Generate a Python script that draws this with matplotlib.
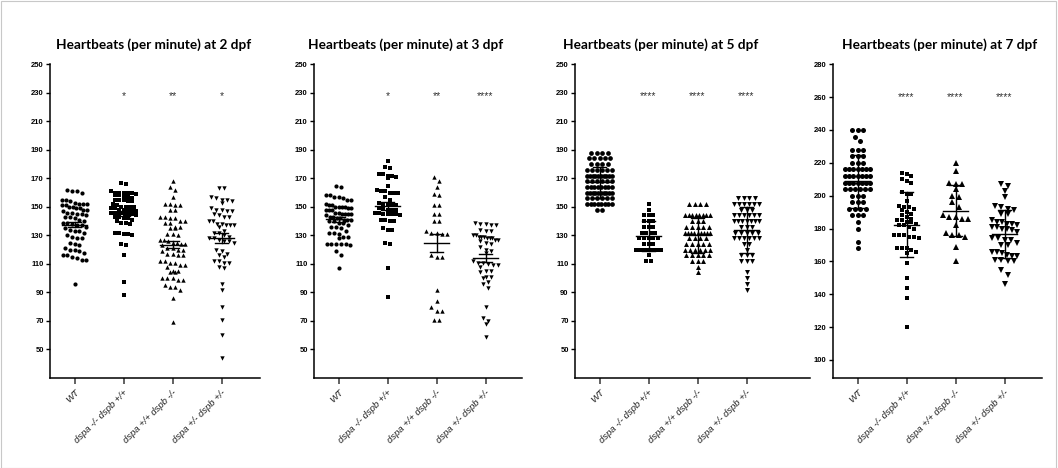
import matplotlib
matplotlib.use("Agg")
import matplotlib.pyplot as plt
from matplotlib.patches import Rectangle
import numpy as np

groups = ["WT", "dspa -/- dspb +/+", "dspa +/+ dspb -/-", "dspa +/- dspb +/-"]
markers = ["o", "s", "^", "v"]
marker_scale = [1.0, 0.85, 1.05, 1.05]

# heartbeats per minute
wt_2 = [162, 161, 161, 160, 155, 155, 154, 153, 152, 152, 152, 151, 151, 150, 150, 149, 149, 148, 148, 147,
        146, 146, 145, 145, 144, 143, 143, 142, 141, 140, 139, 139, 138, 137, 137, 136, 135, 134, 133, 133,
        132, 130, 129, 128, 128, 125, 124, 123, 121, 120, 120, 119, 118, 116, 116, 115, 114, 113, 113, 96]
a_2 = [167, 166, 161, 160, 160, 160, 160, 160, 159, 158, 158, 157, 157, 156, 155, 155, 155, 154, 154, 152,
       151, 150, 150, 150, 150, 149, 149, 148, 148, 148, 147, 147, 146, 146, 146, 146, 145, 145, 145, 144,
       143, 143, 142, 142, 141, 140, 139, 139, 138, 132, 132, 131, 131, 130, 124, 123, 116, 97, 88]
b_2 = [168, 164, 162, 157, 152, 152, 151, 151, 148, 148, 143, 143, 142, 142, 140, 140, 139, 139, 136, 136,
       135, 135, 131, 131, 130, 127, 127, 126, 125, 125, 124, 124, 123, 121, 121, 120, 120, 119, 117, 117,
       116, 116, 112, 112, 111, 111, 109, 109, 108, 105, 105, 104, 104, 100, 100, 100, 99, 99, 95, 94,
       94, 92, 86, 69]
c_2 = [163, 163, 157, 156, 155, 155, 154, 153, 149, 148, 148, 147, 147, 145, 144, 143, 143, 140, 140, 138,
       138, 137, 137, 137, 136, 133, 132, 132, 130, 129, 128, 128, 127, 126, 126, 125, 120, 119, 117, 116,
       115, 112, 112, 111, 111, 108, 107, 96, 92, 80, 71, 60, 44]

wt_3 = [165, 164, 158, 158, 157, 157, 156, 155, 155, 152, 151, 151, 150, 150, 150, 150, 149, 149, 148, 148,
        148, 146, 146, 145, 145, 145, 145, 144, 143, 143, 142, 142, 141, 141, 141, 140, 140, 139, 139, 137,
        136, 136, 135, 133, 132, 132, 131, 129, 129, 128, 124, 124, 124, 124, 124, 123, 119, 116, 107]
a_3 = [182, 178, 177, 173, 173, 172, 172, 171, 170, 165, 162, 161, 161, 160, 160, 160, 157, 155, 153, 152,
       152, 151, 151, 149, 149, 148, 148, 148, 146, 146, 145, 145, 145, 145, 144, 141, 141, 140, 140, 135,
       134, 134, 125, 124, 107, 87]
b_3 = [171, 168, 164, 159, 158, 151, 151, 145, 145, 140, 140, 133, 132, 132, 131, 131, 116, 115, 115, 92,
       84, 80, 77, 77, 71, 71]
c_3 = [139, 138, 138, 137, 137, 134, 133, 133, 130, 130, 129, 129, 129, 128, 128, 128, 127, 127, 126, 125,
       124, 122, 120, 119, 118, 112, 111, 111, 110, 109, 109, 108, 105, 105, 104, 101, 101, 100, 97, 96,
       93, 80, 72, 70, 68, 59]

wt_5 = [188] * 4 + [184] * 5 + [180] * 4 + [176] * 6 + [172] * 10 + [168] * 6 + [164] * 8 + [160] * 10 \
       + [156] * 6 + [152] * 8 + [148] * 2
a_5 = [152, 148] + [144] * 3 + [140] * 3 + [136] * 3 + [132] * 4 + [128] * 5 + [124] * 3 + [120] * 8 \
      + [116] + [112] * 2
b_5 = [152] * 4 + [144] * 8 + [140] * 3 + [136] * 5 + [132] * 9 + [128] * 4 + [124] * 5 + [120] * 6 \
      + [116] * 5 + [112] * 3 + [108, 104]
c_5 = [156] * 4 + [152] * 6 + [148] * 3 + [144] * 6 + [140] * 7 + [136] * 3 + [132] * 5 + [128] * 6 \
      + [124] * 2 + [120] + [116] * 3 + [112] * 3 + [104, 100, 96, 92]

wt_7 = [240] * 3 + [236, 233] + [228] * 3 + [224] * 3 + [220] * 3 + [216] * 7 + [212] * 7 + [208] * 7 \
       + [204] * 6 + [200] * 3 + [196] * 3 + [192] * 4 + [188] * 3 + [184, 180, 172, 168]
a_7 = [214, 213, 212, 210, 209, 208, 202, 201, 201, 197, 194, 193, 193, 192, 191, 190, 189, 188, 187, 186,
       185, 185, 184, 184, 183, 182, 182, 181, 180, 176, 176, 176, 175, 175, 174, 168, 168, 168, 167, 166,
       165, 159, 150, 144, 138, 120]
b_7 = [220, 215, 208, 207, 207, 204, 200, 199, 196, 193, 188, 187, 187, 186, 186, 182, 177, 176, 176, 175,
       169, 160]
c_7 = [207, 206, 203, 199, 194, 193, 192, 191, 189, 189, 185, 184, 184, 183, 183, 182, 181, 181, 180, 180,
       179, 178, 174, 174, 173, 173, 171, 170, 170, 166, 166, 165, 164, 163, 163, 161, 161, 160, 160, 155,
       152, 146]

days = ["2", "3", "5", "7"]
data = [[wt_2, a_2, b_2, c_2], [wt_3, a_3, b_3, c_3], [wt_5, a_5, b_5, c_5], [wt_7, a_7, b_7, c_7]]
stars = [["", "*", "**", "*"], ["", "*", "**", "****"], ["", "****", "****", "****"], ["", "****", "****", "****"]]
star_y = [228, 228, 228, 260]
ylims = [(30, 250), (30, 250), (30, 250), (89, 280)]
yticks = [range(50, 251, 20), range(50, 251, 20), range(50, 251, 20), range(100, 281, 20)]
err_kind = ["sem", "sem", "sd", "sd"]
msize = [3.0, 3.0, 3.4, 3.6]

# axes extents in pixels (left, right) and title centres
W, H = 1058, 468
ax_px = [(50, 260), (314, 522), (575, 810), (833, 1042)]
title_x = [154, 406, 661, 940]
top_px, bot_px = 64.3, 378
unit_px = 49.0


def swarm(vals, binh, step, maxhalf):
    vals = np.asarray(vals, dtype=float)
    order = np.argsort(-vals, kind="stable")
    offs = np.zeros(len(vals))
    rows = []
    cur = []
    for idx in order:
        if cur and vals[cur[0]] - vals[idx] >= binh:
            rows.append(cur)
            cur = []
        cur.append(idx)
    if cur:
        rows.append(cur)
    for r in rows:
        n = len(r)
        sp = step
        if n > 1 and (n - 1) * step > 2 * maxhalf:
            sp = 2 * maxhalf / (n - 1)
        for k, idx in enumerate(r):
            offs[idx] = (k - (n - 1) / 2) * sp
    return offs


fig = plt.figure(figsize=(W / 100, H / 100), dpi=100)
fig.add_artist(Rectangle((0.0005, 0.001), 0.998, 0.997, transform=fig.transFigure,
                         fill=False, edgecolor="#c8c8c8", lw=0.8))

for p in range(4):
    l, r = ax_px[p]
    ax = fig.add_axes([l / W, 1 - bot_px / H, (r - l) / W, (bot_px - top_px) / H])
    y0, y1 = ylims[p]
    ppu = (bot_px - top_px) / (y1 - y0)
    for g in range(4):
        ms = msize[p] * marker_scale[g]
        dpx = ms * 100 / 72 * 1.15
        vals = np.array(data[p][g], dtype=float)
        offs = swarm(vals, dpx / ppu, dpx / unit_px, 0.25)
        ax.plot(g + offs, vals, linestyle="none", marker=markers[g], ms=ms,
                mfc="black", mec="black", mew=0, zorder=2)
        m = vals.mean()
        e = vals.std(ddof=1)
        if err_kind[p] == "sem":
            e = e / np.sqrt(len(vals))
        ax.plot([g - 0.25, g + 0.25], [m, m], color="black", lw=1.0, zorder=3)
        ax.plot([g, g], [m - e, m + e], color="black", lw=1.0, zorder=3)
        for yy in (m - e, m + e):
            ax.plot([g - 0.13, g + 0.13], [yy, yy], color="black", lw=1.0, zorder=3)
        if stars[p][g]:
            ax.text(g, star_y[p], stars[p][g], ha="center", va="center", fontsize=7.5,
                    color="#333333", family="Liberation Sans")
    ax.set_xlim(-0.5, -0.5 + (r - l) / unit_px)
    ax.set_ylim(y0, y1)
    ax.set_yticks(list(yticks[p]))
    ax.set_xticks(range(4))
    ax.set_xticklabels(groups, rotation=45, ha="right", rotation_mode="anchor",
                       fontsize=6.8, style="italic", family="Liberation Sans", color="#222222")
    for t in ax.get_yticklabels():
        t.set_fontsize(5.5)
        t.set_fontweight("bold")
        t.set_family("Liberation Sans")
    ax.tick_params(axis="y", direction="out", length=3, width=1.0, pad=1.5)
    ax.tick_params(axis="x", direction="out", length=4, width=1.3, color="#555555", pad=3)
    for s in ["top", "right"]:
        ax.spines[s].set_visible(False)
    for s in ["left", "bottom"]:
        ax.spines[s].set_linewidth(1.1)
    fig.text(title_x[p] / W, 1 - 45 / H, "Heartbeats (per minute) at " + days[p] + " dpf",
             ha="center", va="center", fontsize=9.8, fontweight="bold", family="Lato")

fig.savefig("out.png", dpi=100)
